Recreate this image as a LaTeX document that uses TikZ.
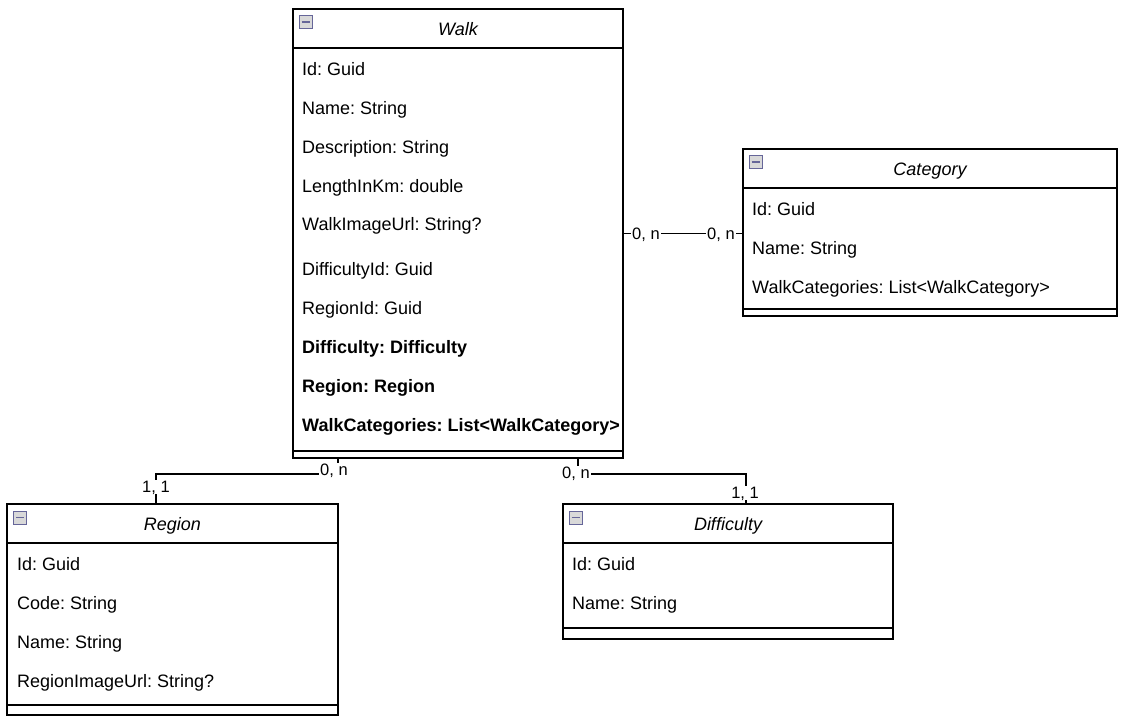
\documentclass[tikz,border=0pt]{standalone}
\usepackage{fontspec}
\setmainfont{Liberation Sans}
\usetikzlibrary{positioning,calc}

\newcommand\umlfont{\fontsize{18}{21}\selectfont\frenchspacing}
\newcommand\cardfont{\fontsize{16.5}{19}\selectfont\frenchspacing}

\tikzset{
  classbox/.style={draw, line width=1.3pt, inner sep=0pt, outer sep=0pt, anchor=north west},
  sepline/.style={line width=1.3pt},
  ctitle/.style={font={\umlfont\itshape}, text height=12.9pt, text depth=0pt},
  attr/.style={font=\umlfont, anchor=west, inner sep=0pt, text height=12.9pt, text depth=0pt},
  collapse/.style={draw=gray!80!blue, fill=gray!30, line width=0.8pt, minimum size=13pt, inner sep=0pt,
    path picture={\draw[line width=1.7pt] ([xshift=2.5pt]path picture bounding box.west) -- ([xshift=-2.5pt]path picture bounding box.east);}},
  conn/.style={line width=1.2pt},
  card/.style={font=\cardfont, fill=white, inner sep=1pt, text height=11.8pt, text depth=0pt}
}

\begin{document}
\begin{tikzpicture}[x=1pt,y=-1pt]
    \useasboundingbox (0,0) rectangle (1121,721);

    % Walk
    \node[classbox, minimum width=330pt, minimum height=449pt] (walk) at (293,9) {};
    \draw[sepline] ($(walk.north west)+(0,39)$) -- ($(walk.north east)+(0,39)$);
    \draw[sepline] ($(walk.south west)+(0,-7)$) -- ($(walk.south east)+(0,-7)$);
    \node[collapse] (walk-icon) at ($(walk.north west)+(12.5,13)$) {};
    \node[ctitle] (walk-title) at ($(walk.north)+(0,20)$) {Walk};
    \foreach \dy/\txt [count=\i] in {60/Id: Guid, 99/Name: String, 138/Description: String,
        177/LengthInKm: double, 215/WalkImageUrl: String?, 260/DifficultyId: Guid,
        299/RegionId: Guid, 338/\textbf{Difficulty: Difficulty}, 377/\textbf{Region: Region},
        416/\textbf{WalkCategories: List<WalkCategory>}}
        \node[attr] (walk-\i) at ($(walk.north west)+(9,\dy)$) {\txt};

    % Category
    \node[classbox, minimum width=374pt, minimum height=167pt] (category) at (743,149) {};
    \draw[sepline] ($(category.north west)+(0,39)$) -- ($(category.north east)+(0,39)$);
    \draw[sepline] ($(category.south west)+(0,-7)$) -- ($(category.south east)+(0,-7)$);
    \node[collapse] (category-icon) at ($(category.north west)+(12.5,13)$) {};
    \node[ctitle] (category-title) at ($(category.north)+(0,20)$) {Category};
    \foreach \dy/\txt [count=\i] in {60/Id: Guid, 99/Name: String, 138/WalkCategories: List<WalkCategory>}
        \node[attr] (category-\i) at ($(category.north west)+(9,\dy)$) {\txt};

    % Region
    \node[classbox, minimum width=331pt, minimum height=211pt] (region) at (7,504) {};
    \draw[sepline] ($(region.north west)+(0,39)$) -- ($(region.north east)+(0,39)$);
    \draw[sepline] ($(region.south west)+(0,-10)$) -- ($(region.south east)+(0,-10)$);
    \node[collapse] (region-icon) at ($(region.north west)+(13,13.5)$) {};
    \node[ctitle] (region-title) at ($(region.north)+(0,20)$) {Region};
    \foreach \dy/\txt [count=\i] in {60/Id: Guid, 99/Code: String, 138/Name: String, 177/RegionImageUrl: String?}
        \node[attr] (region-\i) at ($(region.north west)+(10,\dy)$) {\txt};

    % Difficulty
    \node[classbox, minimum width=330pt, minimum height=135pt] (difficulty) at (563,504) {};
    \draw[sepline] ($(difficulty.north west)+(0,39)$) -- ($(difficulty.north east)+(0,39)$);
    \draw[sepline] ($(difficulty.south west)+(0,-11)$) -- ($(difficulty.south east)+(0,-11)$);
    \node[collapse] (difficulty-icon) at ($(difficulty.north west)+(12.5,13.5)$) {};
    \node[ctitle] (difficulty-title) at ($(difficulty.north)+(0,20)$) {Difficulty};
    \foreach \dy/\txt [count=\i] in {60/Id: Guid, 99/Name: String}
        \node[attr] (difficulty-\i) at ($(difficulty.north west)+(9,\dy)$) {\txt};

    % connectors
    \coordinate (wr) at ($(walk.south west)+(45,0)$);
    \coordinate (rw) at ($(region.north west)+(149,0)$);
    \coordinate (wd) at ($(walk.south west)+(285,0)$);
    \coordinate (dw) at ($(difficulty.north west)+(183,0)$);
    \draw[conn] (walk.east) -- (walk.east -| category.west);
    \draw[conn] (wr) -- ++(0,16) -| (rw);
    \draw[conn] (wd) -- ++(0,16) -| (dw);

    % cardinalities
    \node[card] (card-wc) at ($(walk.east)+(23,0)$) {0, n};
    \node[card] (card-cw) at ($(walk.east -| category.west)+(-22,0)$) {0, n};
    \node[card] (card-wr) at ($(wr)+(-4,12)$) {0, n};
    \node[card] (card-rw) at ($(rw)+(0,-17)$) {1, 1};
    \node[card] (card-wd) at ($(wd)+(-2,15)$) {0, n};
    \node[card] (card-dw) at ($(dw)+(-1,-11)$) {1, 1};
\end{tikzpicture}
\end{document}
